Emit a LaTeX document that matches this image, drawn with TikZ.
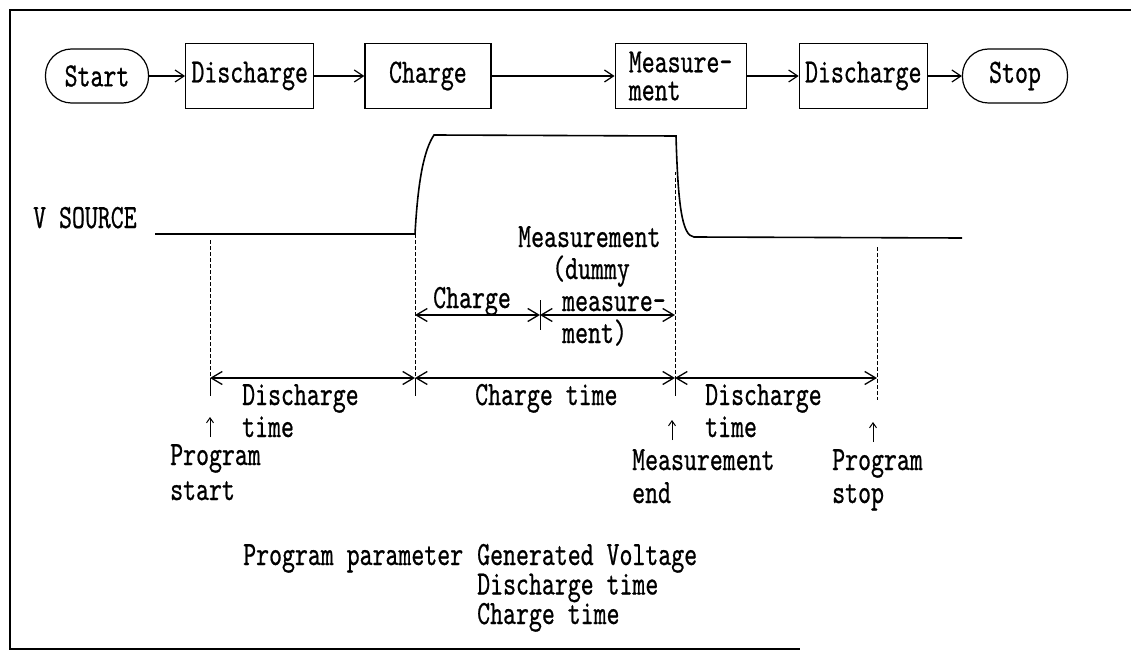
\documentclass[tikz,border=0pt]{standalone}
\usepackage{fontspec}
\usepackage{tikz}
\usetikzlibrary{arrows.meta, positioning}

\newfontfamily\typefont[FakeStretch=0.725, FakeBold=0.6]{lmmono10-regular.otf}
\newcommand{\tfont}[1]{\fontsize{34}{#1}\typefont}

\begin{document}
\begin{tikzpicture}[x=1pt, y=-1pt]
\tikzstyle{process} = [rectangle, minimum width=128pt, minimum height=65pt, inner sep=2pt, text centered, draw=black, line width=1.2pt, font=\tfont{28}]
\tikzstyle{terminal} = [process, rounded corners=26pt, minimum height=54pt]
\tikzstyle{arrow} = [line width=1.2pt, -{Straight Barb[length=9pt,width=12pt]}]
\tikzstyle{dimline} = [line width=1.3pt, {Straight Barb[length=11pt,width=13pt]}-{Straight Barb[length=11pt,width=13pt]}]
\tikzstyle{guide} = [line width=1pt, dash pattern=on 3.5pt off 2.5pt]
\tikzstyle{wave} = [line width=1.6pt]
\tikzstyle{uparrow} = [line width=1pt, -{Straight Barb[length=5pt,width=7pt]}]
\tikzstyle{label} = [inner sep=0pt, anchor=base west, align=left, font=\tfont{32}]

\useasboundingbox (0,0) rectangle (1131,655);
\draw[line width=1.5pt] (1131,10) -- (10,10) -- (10,649) -- (800,649);

% flow of the program
\node (start) [terminal, minimum width=103pt] at (97,76) {Start};
\node (dis1) [process, right=36pt of start] {Discharge};
\node (charge) [process, right=50pt of dis1, minimum width=126pt] {Charge};
\node (meas) [process, right=123pt of charge, minimum width=131pt, align=left] {Measure-\\ment};
\node (dis2) [process, right=52pt of meas] {Discharge};
\node (stop) [terminal, right=34pt of dis2, minimum width=105pt] {Stop};

\draw [arrow] (start) -- (dis1);
\draw [arrow] (dis1) -- (charge);
\draw [arrow] (charge) -- (meas);
\draw [arrow] (meas) -- (dis2);
\draw [arrow] (dis2) -- (stop);

% source voltage
\coordinate (w0) at (155,234);
\coordinate (rise) at (415,234);
\coordinate (top0) at (434,135);
\coordinate (top1) at (676,136);
\coordinate (low) at (694,237);
\coordinate (w1) at (962,238);
\draw [wave] (w0) -- (rise) .. controls (418,180) and (424,150) .. (top0) -- (top1)
  .. controls (678,205) and (682,236) .. (low) -- (w1);

% time marks
\coordinate (pA) at (210,378);
\coordinate (pB) at (415,378);
\coordinate (pC) at (675,378);
\coordinate (pD) at (877,378);
\coordinate (cB) at (415,315);
\coordinate (cM) at (540,315);
\coordinate (cC) at (675,315);
\coordinate (gC) at (675,172);

\draw [guide] (pA |- rise) ++(0,6) -- (pA);
\draw [guide] (rise) -- (pB);
\draw [guide] (gC) -- (pC);
\draw [guide] (pD |- low) ++(0,10) -- (pD) -- ++(0,22);
\foreach \p in {pA,pB,pC}
  \draw [line width=1pt] (\p) -- ++(0,18);
\draw [line width=1pt] (cM) ++(0,-15) -- ++(0,30);

\draw [dimline] (pA) -- (pB);
\draw [dimline] (pB) -- (pC);
\draw [dimline] (pC) -- (pD);
\draw [dimline] (cB) -- (cM);
\draw [dimline] (cM) -- (cC);

% labels (multi-line ones sit on the baseline of their last line)
\node (vsrc) [label] at (33,228) {V SOURCE};
\node (measlbl) [label] at (518,343) {Measurement\\\hspace*{34pt}(dummy\\\hspace*{44pt}measure-\\\hspace*{44pt}ment)};
\node (chglbl) [label] at (433,308) {Charge};
\node (dtime1) [label] at (242,437) {Discharge\\time};
\node (ctime) [label] at (475,405) {Charge time};
\node (dtime2) [label] at (705,437) {Discharge\\time};
\node (pstart) [label, font=\tfont{35}] at (170,500) {Program\\start};
\node (mend) [label, font=\tfont{33}] at (632,503) {Measurement\\end};
\node (pstop) [label, font=\tfont{33}] at (832,503) {Program\\stop};
\node (param) [label] at (243,565) {Program parameter};
\node (plist) [label, font=\tfont{29.5}] at (477,624) {Generated Voltage\\Discharge time\\Charge time};

\coordinate (mA) at (210,417);
\coordinate (mC) at (672,420);
\coordinate (mD) at (873,422);
\foreach \m in {mA,mC,mD}
  \draw [uparrow] (\m) ++(0,20) -- (\m);
\end{tikzpicture}
\end{document}
